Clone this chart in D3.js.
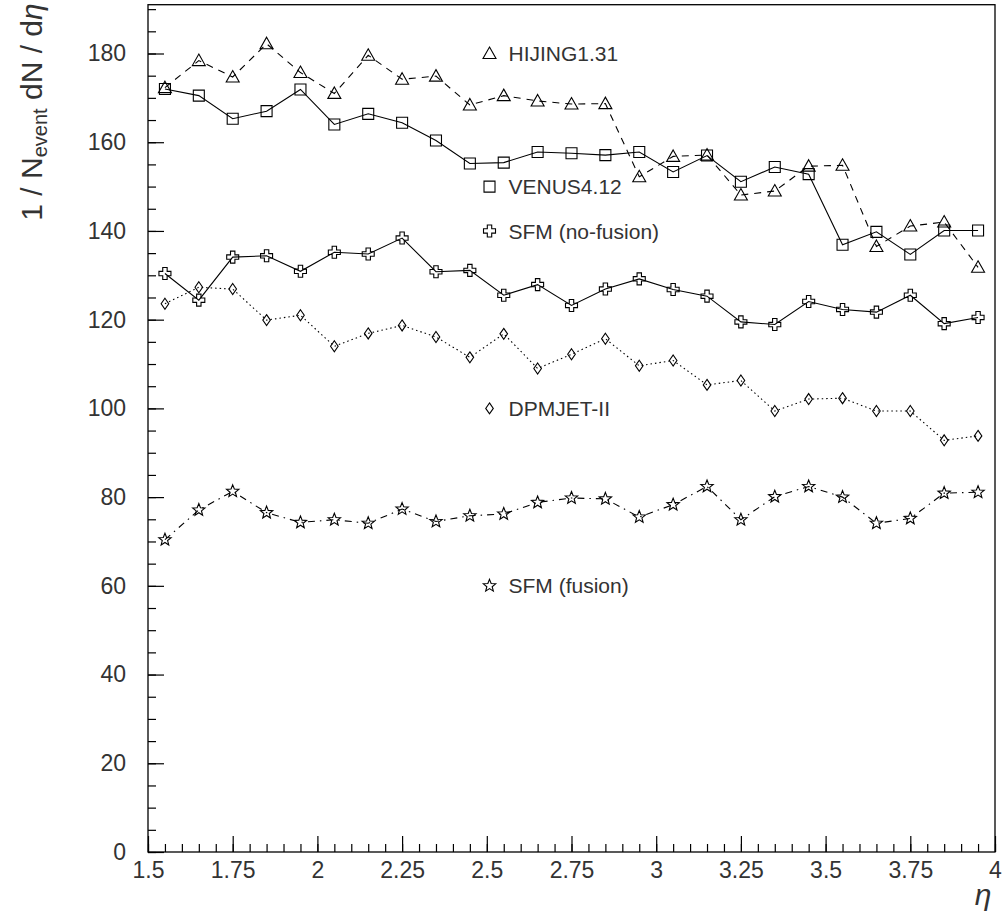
<!DOCTYPE html>
<html>
<head>
<meta charset="utf-8">
<script src="https://cdn.jsdelivr.net/npm/d3@7"></script>
<style>
  body { margin: 0; background: #fff; }
  svg text { font-family: 'Liberation Sans', Arial, sans-serif; fill: #333; }
</style>
</head>
<body>
<svg id="chart" width="1002" height="923"></svg>
<script>

// pseudorapidity bins
const eta = [1.55, 1.65, 1.75, 1.85, 1.95, 2.05, 2.15, 2.25, 2.35, 2.45, 2.55, 2.65, 2.75,
             2.85, 2.95, 3.05, 3.15, 3.25, 3.35, 3.45, 3.55, 3.65, 3.75, 3.85, 3.95];

// 1/N dN/deta per generator
const hijing = [172.3, 178.4, 174.7, 182.2, 175.7, 171.0, 179.6, 174.2, 174.9, 168.4, 170.5, 169.3, 168.6,
                168.7, 152.2, 156.8, 157.1, 148.1, 149.0, 154.6, 154.8, 136.5, 141.1, 142.0, 131.8];
const venus = [172.0, 170.5, 165.3, 167.0, 171.9, 164.0, 166.4, 164.4, 160.4, 155.2, 155.4, 157.8, 157.5,
               157.1, 157.8, 153.3, 157.0, 151.1, 154.4, 152.8, 136.9, 139.8, 134.7, 140.1, 140.1];
const sfmNoFusion = [130.4, 124.4, 134.1, 134.4, 130.9, 135.2, 134.8, 138.4, 130.8, 131.1, 125.5, 127.9, 123.2,
                     126.9, 129.2, 126.8, 125.3, 119.5, 118.9, 124.1, 122.3, 121.7, 125.5, 119.1, 120.5];
const dpmjet = [123.6, 127.3, 126.9, 119.9, 121.0, 114.0, 116.9, 118.7, 116.1, 111.5, 116.8, 109.0, 112.2,
                115.7, 109.6, 110.8, 105.3, 106.3, 99.4, 102.1, 102.3, 99.4, 99.4, 92.8, 93.8];
const sfmFusion = [70.4, 77.1, 81.3, 76.5, 74.3, 74.9, 74.1, 77.3, 74.5, 75.8, 76.2, 78.8, 79.8,
                   79.6, 75.5, 78.3, 82.4, 74.9, 80.1, 82.4, 80.0, 74.1, 75.2, 80.9, 81.1];

const seriesNames = ['HIJING1.31', 'VENUS4.12', 'SFM (no-fusion)', 'DPMJET-II', 'SFM (fusion)'];

// axis ticks
const xTicks = [1.5, 1.75, 2, 2.25, 2.5, 2.75, 3, 3.25, 3.5, 3.75, 4];
const yTicks = [0, 20, 40, 60, 80, 100, 120, 140, 160, 180];

const svg = d3.select('#chart');
const plotLeft = 148, plotRight = 995, plotTop = 4.7, plotBottom = 852;

const x = d3.scaleLinear().domain([1.5, 4]).range([plotLeft, plotRight]);
const y = d3.scaleLinear().domain([0, 191]).range([plotBottom, plotTop]);

// marker outlines, centred on 0,0
function starPath(ro, ri) {
  const pts = [];
  for (let i = 0; i < 10; i++) {
    const a = -Math.PI / 2 + i * Math.PI / 5;
    const r = i % 2 ? ri : ro;
    pts.push([r * Math.cos(a), r * Math.sin(a)]);
  }
  return 'M' + pts.map(p => p[0].toFixed(2) + ',' + p[1].toFixed(2)).join('L') + 'Z';
}

const markers = {
  triangle: 'M0,-6.5L6.5,5L-6.5,5Z',
  square: 'M-5.5,-5.5h11v11h-11Z',
  cross: 'M-2.2,-6H2.2V-2.2H6V2.2H2.2V6H-2.2V2.2H-6V-2.2H-2.2Z',
  diamond: 'M0,-5.5L3.8,0L0,5.5L-3.8,0Z',
  star: starPath(6.5, 2.8),
};

const series = [
  { name: seriesNames[0], values: hijing, marker: 'triangle', dash: '7,6', legendY: 180 },
  { name: seriesNames[1], values: venus, marker: 'square', dash: null, legendY: 150 },
  { name: seriesNames[2], values: sfmNoFusion, marker: 'cross', dash: null, legendY: 140 },
  { name: seriesNames[3], values: dpmjet, marker: 'diamond', dash: '1.5,3', legendY: 100 },
  { name: seriesNames[4], values: sfmFusion, marker: 'star', dash: '7,5,1.5,5', legendY: 60 },
];

// minor ticks first, then the labelled ones
function styleAxis(g, size) {
  g.select('.domain').remove();
  g.selectAll('line').attr('stroke', '#000').attr('stroke-width', 1.2);
  g.selectAll('text').attr('font-size', size).attr('font-family', null).attr('fill', null);
}

svg.append('g')
   .attr('transform', `translate(0,${plotBottom})`)
   .call(d3.axisBottom(x).tickValues(d3.range(1.5, 4.001, 0.05)).tickSizeInner(-8).tickSizeOuter(0).tickFormat(''))
   .call(g => styleAxis(g, 0));

svg.append('g')
   .attr('transform', `translate(0,${plotBottom})`)
   .call(d3.axisBottom(x).tickValues(xTicks).tickSizeInner(-16).tickSizeOuter(0).tickPadding(10)
           .tickFormat(d => String(+d.toFixed(2))))
   .call(g => styleAxis(g, 23));

svg.append('g')
   .attr('transform', `translate(${plotLeft},0)`)
   .call(d3.axisLeft(y).tickValues(d3.range(0, 191, 5)).tickSizeInner(-8).tickSizeOuter(0).tickFormat(''))
   .call(g => styleAxis(g, 0));

svg.append('g')
   .attr('transform', `translate(${plotLeft},0)`)
   .call(d3.axisLeft(y).tickValues(yTicks).tickSizeInner(-16).tickSizeOuter(0).tickPadding(22))
   .call(g => styleAxis(g, 23));

// frame
svg.append('rect')
   .attr('x', plotLeft).attr('y', plotTop)
   .attr('width', plotRight - plotLeft).attr('height', plotBottom - plotTop)
   .attr('fill', 'none').attr('stroke', '#000').attr('stroke-width', 1.3);

const line = d3.line()
  .x((d, i) => x(eta[i]))
  .y(d => y(d));

const groups = svg.selectAll('g.series')
  .data(series)
  .enter()
  .append('g')
  .attr('class', 'series');

groups.append('path')
      .attr('d', s => line(s.values))
      .attr('fill', 'none')
      .attr('stroke', '#000')
      .attr('stroke-width', 1.1)
      .attr('stroke-dasharray', s => s.dash);

groups.each(function (s) {
  d3.select(this).selectAll('path.mk')
    .data(s.values)
    .enter()
    .append('path')
    .attr('class', 'mk')
    .attr('d', markers[s.marker])
    .attr('transform', (d, i) => `translate(${x(eta[i])},${y(d)})`)
    .attr('fill', 'none')
    .attr('stroke', '#000')
    .attr('stroke-width', 1.1);
});

// legend entries sit inside the frame
const legend = svg.selectAll('g.legend')
  .data(series)
  .enter()
  .append('g')
  .attr('class', 'legend')
  .attr('transform', s => `translate(${x(2.508)},${y(s.legendY)})`);

legend.append('path')
      .attr('d', s => markers[s.marker])
      .attr('fill', 'none')
      .attr('stroke', '#000')
      .attr('stroke-width', 1.1);

legend.append('text')
      .attr('x', 19)
      .attr('dy', '0.36em')
      .attr('font-size', 21)
      .text(s => s.name);

// axis titles
const yTitle = svg.append('text')
  .attr('transform', 'translate(42,112) rotate(-90)')
  .attr('text-anchor', 'middle')
  .attr('font-size', 30);
yTitle.append('tspan').text('1 / N');
yTitle.append('tspan').attr('font-size', 20).attr('dy', 5).text('event');
yTitle.append('tspan').attr('dy', -5).text(' dN / d');
yTitle.append('tspan').attr('font-style', 'italic').text('η');

svg.append('text')
   .attr('x', 983).attr('y', 905)
   .attr('text-anchor', 'middle')
   .attr('font-size', 30)
   .attr('font-style', 'italic')
   .text('η');

</script>
</body>
</html>
